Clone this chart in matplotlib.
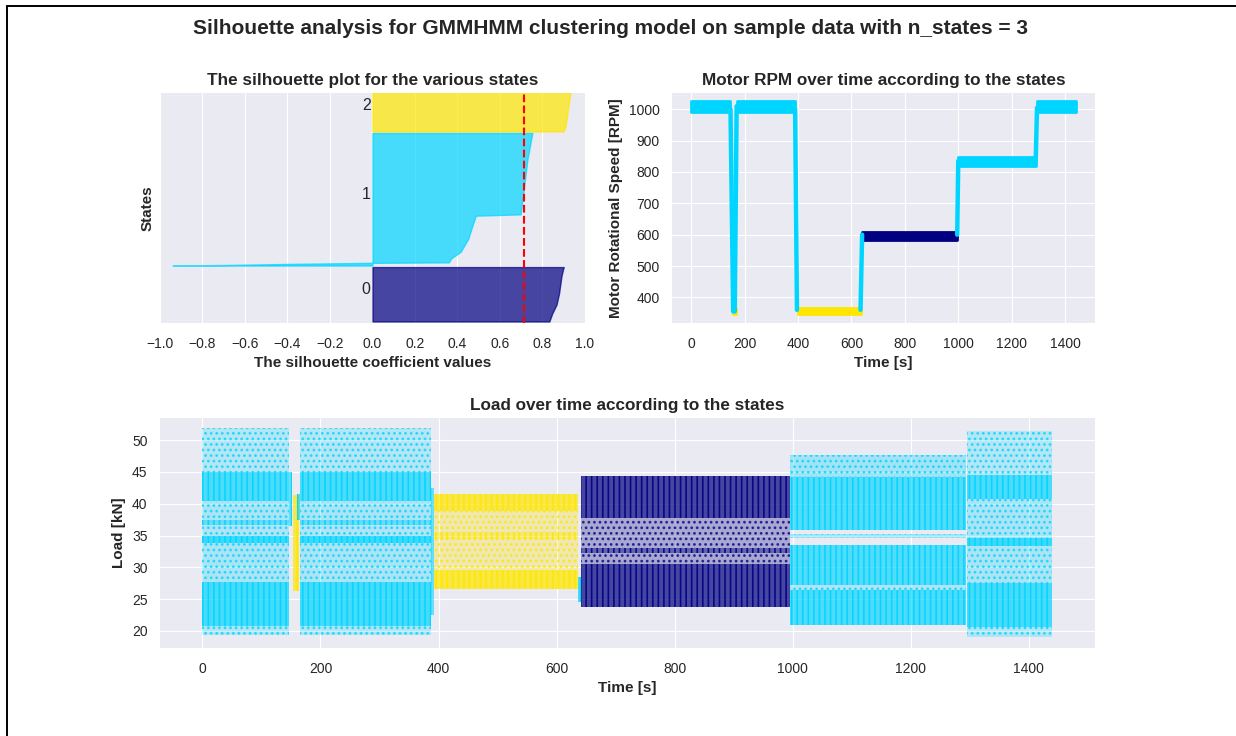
import matplotlib
matplotlib.use("Agg")
import matplotlib.pyplot as plt
import matplotlib.patches as patches
import numpy as np

plt.style.use("seaborn-v0_8-darkgrid")
plt.rcParams["font.family"] = ["Liberation Sans", "DejaVu Sans"]
plt.rcParams["hatch.linewidth"] = 1.2

n_states = 3

# ---- silhouette profile per state (sorted), as (fraction of state samples, value)
cluster_sizes = [350, 853, 280]
sil_frac_0 = [0.0, 0.15, 0.31, 0.52, 0.83, 0.98, 1.0]
sil_vals_0 = [0.832, 0.846, 0.866, 0.878, 0.889, 0.898, 0.900]
sil_frac_1 = [0.0, 0.004, 0.012, 0.02, 0.024, 0.054, 0.104, 0.20, 0.30, 0.376, 0.386, 0.55, 0.80, 1.0]
sil_vals_1 = [-0.94, -0.70, -0.40, -0.02, 0.36, 0.37, 0.415, 0.45, 0.47, 0.486, 0.697, 0.71, 0.729, 0.752]
sil_frac_2 = [0.0, 0.14, 0.52, 0.91, 1.0]
sil_vals_2 = [0.900, 0.909, 0.920, 0.932, 0.935]
silhouette_avg = 0.715

# ---- motor speed plateaus
rpm_start = [0, 157, 170, 398, 640, 1000, 1295]
rpm_end = [147, 166, 389, 634, 996, 1290, 1440]
rpm_low = [992, 348, 992, 346, 584, 820, 993]
rpm_high = [1026, 365, 1026, 366, 607, 849, 1027]
rpm_state = [1, 2, 1, 2, 0, 1, 1]
# speed changes between plateaus: (t from, rpm from, t to, rpm to)
rpm_steps = [(147, 1000, 157, 355), (163, 355, 170, 1010), (389, 1000, 396, 360),
             (634, 360, 640, 600), (996, 600, 1000, 835), (1290, 835, 1295, 1005)]

# ---- load bands per time segment: (low kN, high kN, point density 0..1)
bands_full_speed = [(19.3, 20.7, 0.3), (20.7, 27.7, 0.9), (27.7, 33.9, 0.35), (33.9, 34.9, 1.0),
                    (34.9, 36.7, 0.3), (36.7, 37.4, 0.65), (37.4, 40.5, 0.35), (40.5, 45.0, 0.85),
                    (45.0, 52.0, 0.25)]
bands_low_speed = [(26.6, 29.6, 0.95), (29.6, 34.5, 0.35), (34.5, 35.5, 0.55), (35.5, 38.9, 0.35),
                   (38.9, 41.5, 0.9)]
bands_mid_speed = [(23.8, 30.5, 0.9), (30.5, 32.3, 0.4), (32.3, 33.0, 0.65), (33.0, 37.8, 0.4),
                   (37.8, 44.3, 0.9)]
bands_high_speed = [(20.9, 26.5, 0.85), (26.5, 27.2, 0.3), (27.2, 33.5, 0.8), (34.6, 35.2, 0.45),
                    (35.9, 44.2, 0.8), (44.2, 47.6, 0.45)]
bands_last = [(19.0, 20.6, 0.3), (20.6, 27.6, 0.9), (27.6, 33.3, 0.35), (33.3, 34.6, 1.0),
              (34.6, 40.7, 0.35), (40.7, 44.6, 0.85), (44.6, 51.5, 0.25)]

load_seg_start = [0, 146, 153, 160, 166, 387, 393, 636, 641, 995, 1295]
load_seg_end = [146, 152, 163, 166, 387, 393, 636, 641, 995, 1293, 1440]
load_seg_state = [1, 1, 2, 1, 1, 1, 2, 1, 0, 1, 1]
load_seg_bands = [bands_full_speed, [(36.5, 45.0, 0.6)], [(26.3, 41.3, 0.9)], [(37.5, 41.5, 0.8)],
                  bands_full_speed, [(22.5, 42.5, 0.6)], bands_low_speed, [(24.6, 28.5, 0.9)],
                  bands_mid_speed, bands_high_speed, bands_last]


def state_color(s):
    return plt.cm.jet(float(s) / n_states)


fig = plt.figure(figsize=(12.36, 7.36), dpi=100)
ax1 = fig.add_axes([0.1294, 0.5611, 0.3439, 0.3125])
ax2 = fig.add_axes([0.5437, 0.5611, 0.3422, 0.3125])
ax3 = fig.add_axes([0.1294, 0.1196, 0.7565, 0.3125])

# silhouette plot
sil_fracs = [sil_frac_0, sil_frac_1, sil_frac_2]
sil_vals = [sil_vals_0, sil_vals_1, sil_vals_2]
y_lower = 10
for i in range(n_states):
    size_i = cluster_sizes[i]
    y = y_lower + np.array(sil_fracs[i]) * size_i
    color = state_color(i)
    ax1.fill_betweenx(y, 0, sil_vals[i], facecolor=color, edgecolor=color, alpha=0.7)
    ax1.text(-0.05, y_lower + 0.5 * size_i, str(i), fontsize=11.5, color=".15")
    y_lower = y_lower + size_i + 10

ax1.axvline(x=silhouette_avg, color="red", linestyle="--", lw=1.5)
ax1.set_xlim(-1, 1)
ax1.set_ylim(0, 1480)
ax1.set_yticks([])
ax1.set_xticks(np.arange(-1.0, 1.01, 0.2))
ax1.set_title("The silhouette plot for the various states", fontsize=12.3, fontweight="bold")
ax1.set_xlabel("The silhouette coefficient values", fontsize=11, fontweight="bold")
ax1.set_ylabel("States", fontsize=11, fontweight="bold")

# motor rpm over time
for t0, r0, t1, r1 in rpm_steps:
    ax2.plot([t0, t1], [r0, r1], color=state_color(1), lw=3.2, solid_capstyle="round")
for t0, t1, lo, hi, s in zip(rpm_start, rpm_end, rpm_low, rpm_high, rpm_state):
    c = state_color(s)
    ax2.fill_between([t0, t1], lo, hi, facecolor=c, edgecolor=c, lw=2, joinstyle="round")
ax2.set_xlim(-72, 1512)
ax2.set_ylim(318, 1052)
ax2.set_xticks(np.arange(0, 1401, 200))
ax2.set_title("Motor RPM over time according to the states", fontsize=12.3, fontweight="bold")
ax2.set_xlabel("Time [s]", fontsize=11, fontweight="bold")
ax2.set_ylabel("Motor Rotational Speed [RPM]", fontsize=11, fontweight="bold")

# load over time: dense bands as point columns, sparse bands as scattered dots
for t0, t1, s, bands in zip(load_seg_start, load_seg_end, load_seg_state, load_seg_bands):
    c = state_color(s)
    for lo, hi, dens in bands:
        if dens < 0.5:
            ax3.fill_between([t0, t1], lo, hi, facecolor=(*c[:3], 0.12 + 0.4 * dens),
                             edgecolor=(*c[:3], 0.75), lw=0, hatch="...")
        else:
            ax3.fill_between([t0, t1], lo, hi, facecolor=(*c[:3], 0.25 + 0.5 * dens),
                             edgecolor=(*c[:3], 0.9), lw=0, hatch="|||")
ax3.set_xlim(-72, 1512)
ax3.set_ylim(17.3, 53.5)
ax3.set_xticks(np.arange(0, 1401, 200))
ax3.set_title("Load over time according to the states", fontsize=12.3, fontweight="bold")
ax3.set_xlabel("Time [s]", fontsize=11, fontweight="bold")
ax3.set_ylabel("Load [kN]", fontsize=11, fontweight="bold")

for ax in (ax1, ax2, ax3):
    ax.tick_params(labelsize=10, colors=".15")
    ax.tick_params(axis="x", pad=10)
    ax.tick_params(axis="y", pad=9)

fig.suptitle("Silhouette analysis for GMMHMM clustering model on sample data with n_states = 3",
             fontsize=15, fontweight="bold", x=0.494, y=1 - 29 / 736, va="center")

# frame around the figure
fig.add_artist(patches.Rectangle((7 / 1236, -0.2), 2.0, 1.2 - 6 / 736, transform=fig.transFigure,
                                 fill=False, edgecolor="black", lw=1.4))

fig.savefig("out.png", dpi=100)
